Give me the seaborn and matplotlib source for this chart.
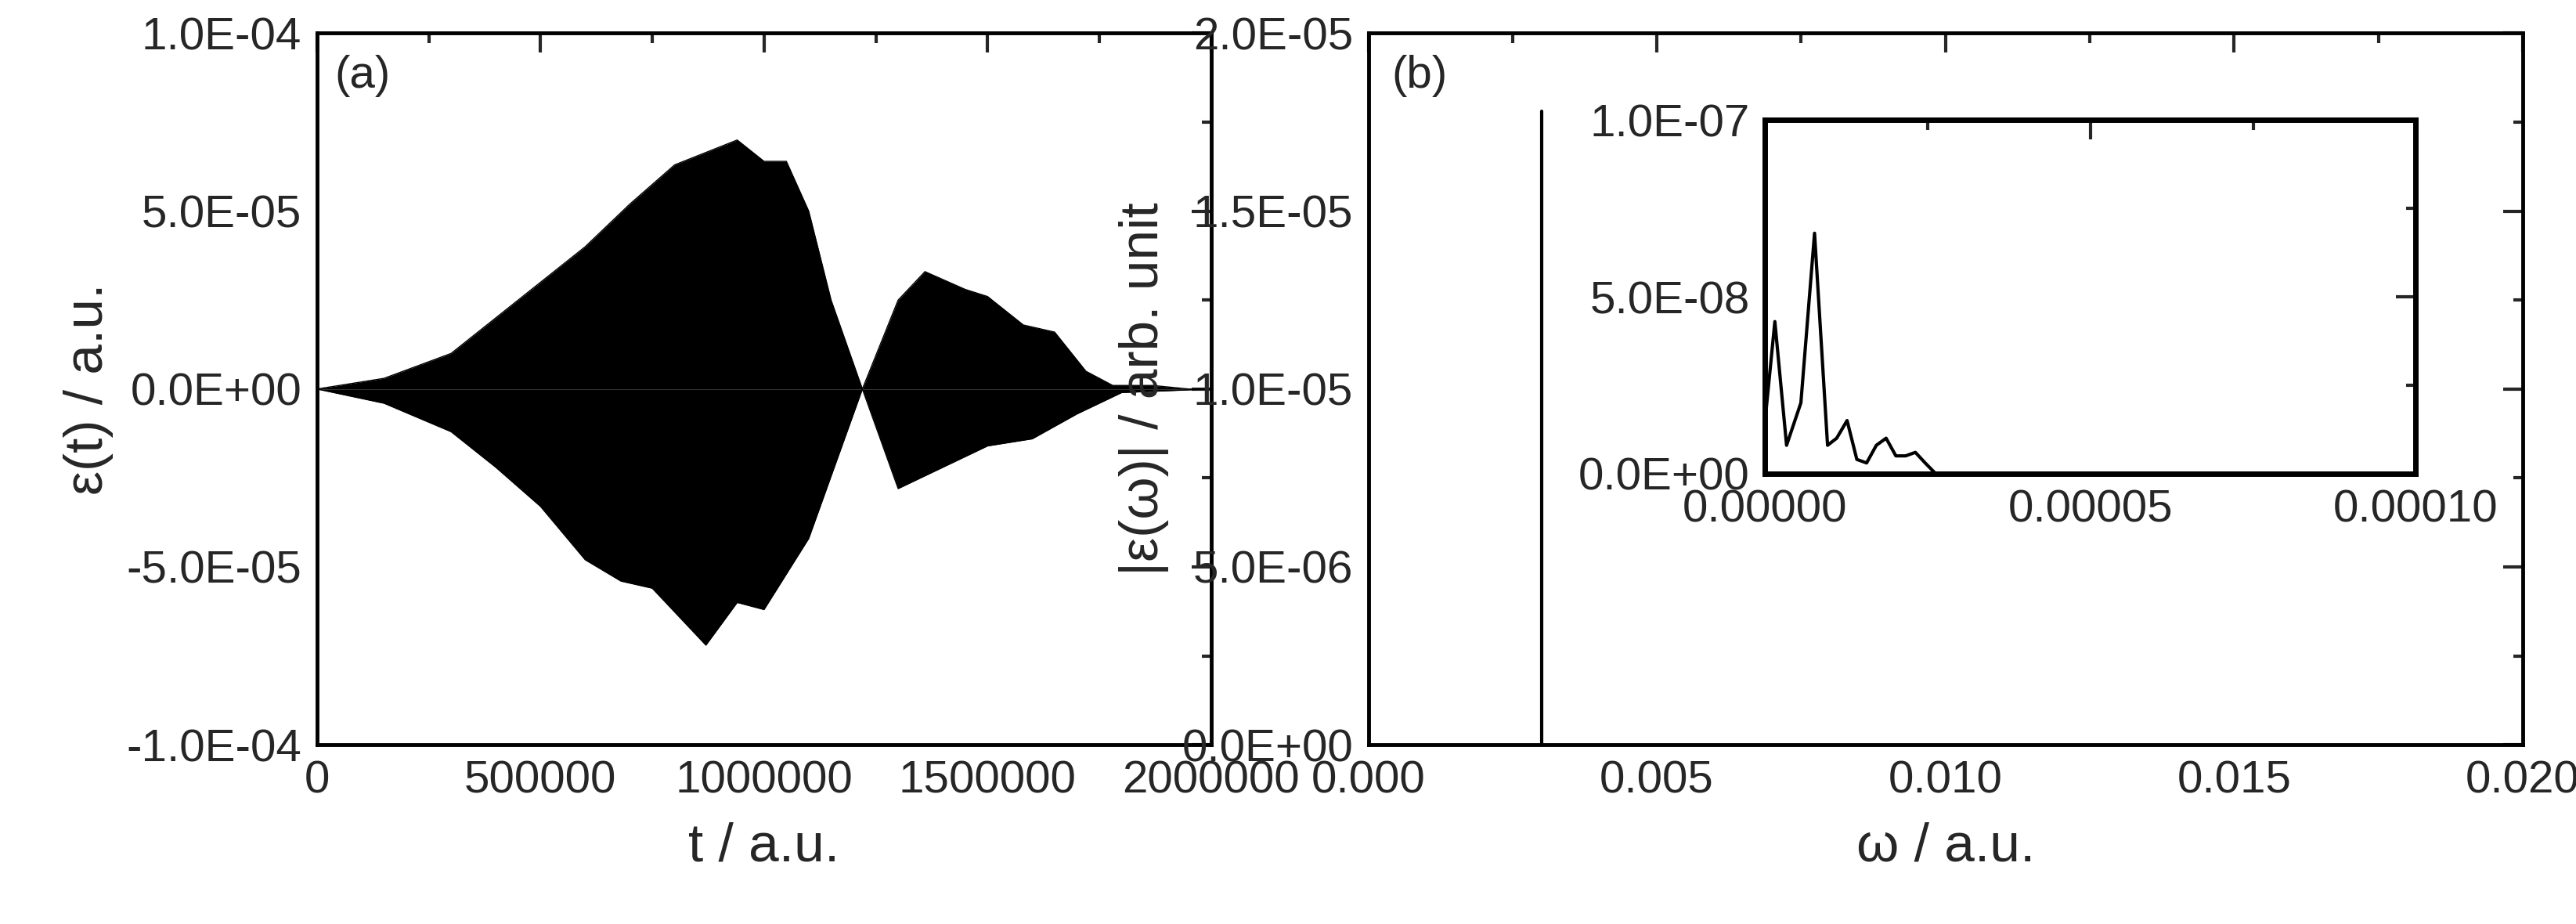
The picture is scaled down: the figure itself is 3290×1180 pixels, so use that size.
import matplotlib
matplotlib.use("Agg")
import matplotlib.pyplot as plt
from matplotlib.ticker import FuncFormatter, AutoMinorLocator
import seaborn as sns

sns.set_style("white")
plt.rcParams["font.family"] = "Liberation Sans"

# Panel (a) envelope
t_up = [0, 150000, 300000, 450000, 600000, 700000, 800000, 880000, 940000, 1000000, 1050000, 1100000, 1150000, 1220000,
        1300000, 1360000, 1450000, 1500000, 1580000, 1650000, 1720000, 1780000, 1870000, 1950000, 2000000]
e_up = [0, 0.3e-5, 1.0e-5, 2.5e-5, 4.0e-5, 5.2e-5, 6.3e-5, 6.7e-5, 7.0e-5, 6.4e-5, 6.4e-5, 5.0e-5, 2.5e-5, 0,
        2.5e-5, 3.3e-5, 2.8e-5, 2.6e-5, 1.8e-5, 1.6e-5, 0.5e-5, 0.1e-5, 0.1e-5, 0, 0]
t_lo = [0, 150000, 300000, 400000, 500000, 600000, 680000, 750000, 870000, 940000, 1000000, 1100000, 1220000,
        1300000, 1400000, 1500000, 1600000, 1700000, 1800000, 2000000]
e_lo = [0, -0.4e-5, -1.2e-5, -2.2e-5, -3.3e-5, -4.8e-5, -5.4e-5, -5.6e-5, -7.2e-5, -6.0e-5, -6.2e-5, -4.2e-5, 0,
        -2.8e-5, -2.2e-5, -1.6e-5, -1.4e-5, -0.7e-5, -0.1e-5, 0]

# Panel (b) spectrum
w_peak = [0.003, 0.003]
amp_peak = [0.0, 1.78e-5]

# Inset
w_in = [0, 1.5e-6, 3.3e-6, 5.5e-6, 7.6e-6, 9.6e-6, 11.0e-6, 12.6e-6, 14.1e-6, 15.6e-6, 17.1e-6, 18.6e-6,
        20.1e-6, 21.6e-6, 23.1e-6, 24.6e-6, 26.2e-6]
amp_in = [1.5e-8, 4.3e-8, 0.8e-8, 2.0e-8, 6.8e-8, 0.8e-8, 1.0e-8, 1.5e-8, 0.4e-8, 0.3e-8, 0.8e-8, 1.0e-8,
          0.5e-8, 0.5e-8, 0.6e-8, 0.3e-8, 0.0]

def sci(v, p):
    s = f"{v:.1E}"
    m, e = s.split("E")
    return f"{m}E{e[0]}{int(e[1:]):02d}"

TS, LS = 42, 50
fig = plt.figure(figsize=(32.91, 11.8), dpi=100)
ax1 = fig.add_axes([0.123, 0.194, 0.347, 0.770])
ax2 = fig.add_axes([0.531, 0.194, 0.448, 0.770])
axi = fig.add_axes([0.685, 0.4875, 0.2525, 0.3825])

def style(ax, ts=TS):
    ax.tick_params(which="both", direction="in", top=True, right=True, labelsize=ts, width=3)
    ax.tick_params(which="major", length=18, pad=14)
    ax.tick_params(which="minor", length=9)
    ax.xaxis.set_minor_locator(AutoMinorLocator(2))
    ax.yaxis.set_minor_locator(AutoMinorLocator(2))
    for s in ax.spines.values():
        s.set_linewidth(3.5)
        s.set_color("black")

ax1.fill_between(t_up, e_up, 0, color="black", lw=0)
ax1.fill_between(t_lo, e_lo, 0, color="black", lw=0)
sns.lineplot(x=t_up, y=e_up, ax=ax1, color="black", lw=1, estimator=None, sort=False)
sns.lineplot(x=t_lo, y=e_lo, ax=ax1, color="black", lw=1, estimator=None, sort=False)
ax1.set_xlim(0, 2000000); ax1.set_ylim(-1e-4, 1e-4)
ax1.set_xticks([0, 500000, 1000000, 1500000, 2000000])
ax1.set_xticklabels(["0", "500000", "1000000", "1500000", "2000000"])
ax1.set_yticks([-1e-4, -5e-5, 0, 5e-5, 1e-4])
ax1.yaxis.set_major_formatter(FuncFormatter(sci))
ax1.set_xlabel("t / a.u.", fontsize=LS, labelpad=18)
ax1.set_ylabel("ε(t) / a.u.", fontsize=LS, labelpad=12)
ax1.text(0.02, 0.97, "(a)", transform=ax1.transAxes, fontsize=TS, va="top")
style(ax1)

sns.lineplot(x=w_peak, y=amp_peak, ax=ax2, color="black", lw=3, estimator=None, sort=False)
ax2.set_xlim(0, 0.02); ax2.set_ylim(0, 2e-5)
ax2.set_xticks([0, 0.005, 0.01, 0.015, 0.02])
ax2.set_xticklabels(["0.000", "0.005", "0.010", "0.015", "0.020"])
ax2.set_yticks([0, 5e-6, 1e-5, 1.5e-5, 2e-5])
ax2.yaxis.set_major_formatter(FuncFormatter(sci))
ax2.set_xlabel("ω / a.u.", fontsize=LS, labelpad=18)
ax2.set_ylabel("|ε(ω)| / arb. unit", fontsize=LS, labelpad=12)
ax2.text(0.02, 0.97, "(b)", transform=ax2.transAxes, fontsize=TS, va="top")
style(ax2)

sns.lineplot(x=w_in, y=amp_in, ax=axi, color="black", lw=3, estimator=None, sort=False)
axi.set_xlim(0, 1e-4); axi.set_ylim(0, 1e-7)
axi.set_xticks([0, 5e-5, 1e-4])
axi.set_xticklabels(["0.00000", "0.00005", "0.00010"])
axi.set_yticks([0, 5e-8, 1e-7])
axi.yaxis.set_major_formatter(FuncFormatter(sci))
style(axi)
for s in axi.spines.values():
    s.set_linewidth(5)

fig.savefig("out.png", dpi=100)
